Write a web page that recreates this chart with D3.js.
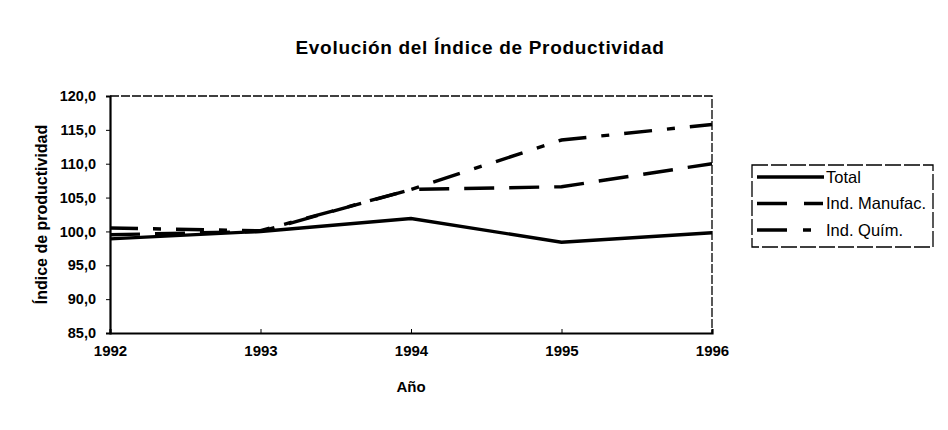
<!DOCTYPE html>
<html lang="es">
<head>
<meta charset="UTF-8">
<title>Evolución del Índice de Productividad</title>
<style>
  body { margin: 0; background: #fff; }
  svg text { font-family: "Liberation Sans", Arial, sans-serif; fill: #000; }
  .axis path, .axis line { stroke: #000; }
  .line { fill: none; stroke: #000; stroke-width: 3.4px; }
</style>
</head>
<body>
<script src="https://d3js.org/d3.v7.min.js"></script>
<script>
// data
const years = [1992, 1993, 1994, 1995, 1996];
const total = [98.9, 100.0, 101.9, 98.4, 99.8];
const manufac = [99.5, 100.0, 106.2, 106.6, 110.0];
const quim = [100.5, 100.1, 106.2, 113.5, 115.8];
const yTicks = [85, 90, 95, 100, 105, 110, 115, 120];

const series = [
  { name: "Total", values: total, dash: null, key: null },
  { name: "Ind. Manufac.", values: manufac, dash: "30,15", key: "30,17,19" },
  { name: "Ind. Quím.", values: quim, dash: "28,15,8,15", key: "30,16,8" }
];

const W = 948, H = 430;
const margin = { top: 96, right: 236, bottom: 97, left: 110 };
const width = W - margin.left - margin.right,
      height = H - margin.top - margin.bottom;

const svg = d3.select("body").append("svg")
  .attr("width", W)
  .attr("height", H);

svg.append("text")
  .attr("x", 480).attr("y", 54)
  .attr("text-anchor", "middle")
  .style("font-size", "19px").style("font-weight", "bold")
  .style("letter-spacing", "0.7px")
  .text("Evolución del Índice de Productividad");

const g = svg.append("g")
  .attr("transform", "translate(" + margin.left + "," + margin.top + ")");

const x = d3.scaleLinear().domain([1992, 1996]).range([0, width]);
const y = d3.scaleLinear().domain([85, 120]).range([height, 0]);

// plot area border (top / right)
g.append("path")
  .attr("d", `M0,0H${width}V${height}`)
  .attr("fill", "none")
  .attr("stroke", "#000")
  .attr("stroke-width", 1.3)
  .attr("stroke-dasharray", "9,2");

const fmt = d => d.toFixed(1).replace(".", ",");

const yAxis = g.append("g").attr("class", "axis")
  .call(d3.axisLeft(y).tickValues(yTicks).tickFormat(fmt).tickSize(4).tickPadding(10));
yAxis.select(".domain").attr("stroke-width", 2.2);
yAxis.selectAll("text").style("font-size", "14.5px").style("font-weight", "bold");

const xAxis = g.append("g").attr("class", "axis")
  .attr("transform", "translate(0," + height + ")")
  .call(d3.axisBottom(x).tickValues(years).tickFormat(d3.format("d")).tickSize(-4).tickPadding(12));
xAxis.select(".domain").attr("stroke-width", 2.2);
xAxis.selectAll("text").style("font-size", "15px").style("font-weight", "bold");

g.append("text")
  .attr("x", width / 2).attr("y", height + 59)
  .attr("text-anchor", "middle")
  .style("font-size", "15px").style("font-weight", "bold")
  .text("Año");

g.append("text")
  .attr("transform", `translate(${41 - margin.left},${height / 2}) rotate(-90)`)
  .attr("text-anchor", "middle")
  .attr("dy", "0.35em")
  .style("font-size", "16px").style("font-weight", "bold")
  .text("Índice de productividad");

const line = d3.line()
  .x((d, i) => x(years[i]))
  .y(d => y(d));

g.selectAll(".line")
  .data(series)
  .enter().append("path")
  .attr("class", "line")
  .attr("d", d => line(d.values))
  .attr("stroke-dasharray", d => d.dash);

// legend
const lg = svg.append("g").attr("transform", "translate(752,165)");
lg.append("rect")
  .attr("width", 181).attr("height", 82)
  .attr("fill", "#fff").attr("stroke", "#000").attr("stroke-width", 1.3)
  .attr("stroke-dasharray", "16,3");

const item = lg.selectAll(".item")
  .data(series)
  .enter().append("g")
  .attr("transform", (d, i) => `translate(0,${12 + i * 26.5})`);

item.append("line")
  .attr("x1", 5).attr("x2", 72)
  .attr("stroke", "#000").attr("stroke-width", 3.4)
  .attr("stroke-dasharray", d => d.key);

item.append("text")
  .attr("x", 74).attr("dy", "0.36em")
  .style("font-size", "16.5px")
  .text(d => d.name);
</script>
</body>
</html>
